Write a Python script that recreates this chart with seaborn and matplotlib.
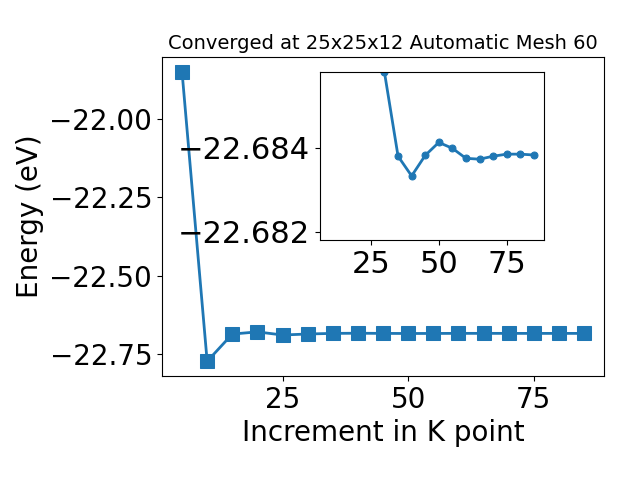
import numpy as np
import pandas as pd
import matplotlib
matplotlib.use("Agg")
import matplotlib.pyplot as plt
import seaborn as sns

# Data
kpoints = [5, 10, 15, 20, 25, 30, 35, 40, 45, 50, 55, 60, 65, 70, 75, 80, 85]
energy = [-21.849, -22.773, -22.686, -22.679, -22.689, -22.6858, -22.6838, -22.68333,
          -22.68382, -22.68413, -22.68399, -22.68375, -22.68373, -22.6838, -22.68385,
          -22.68385, -22.68383]

# Zoomed-in portion shown in the inset
inset_kpoints = kpoints[5:]
inset_energy = energy[5:]

color = "#1f77b4"

fig = plt.figure(figsize=(6.4, 4.8), dpi=100)
ax = fig.add_axes([0.253, 0.217, 0.691, 0.664])

sns.lineplot(x=kpoints, y=energy, ax=ax, color=color, marker="s", markersize=10,
             markeredgecolor=color, linewidth=2)
ax.set_title("Converged at 25x25x12 Automatic Mesh 60", fontsize=14)
ax.set_xlabel("Increment in K point", fontsize=20)
ax.set_ylabel("Energy (eV)", fontsize=20)
ax.set_yticks([-22.75, -22.5, -22.25, -22.0])
ax.set_xticks([25, 50, 75])
ax.tick_params(labelsize=20)

# Inset (y axis runs from more negative at top to less negative at bottom)
axin = fig.add_axes([0.5, 0.5, 0.35, 0.349])
sns.lineplot(x=inset_kpoints, y=inset_energy, ax=axin, color=color, marker="o",
             markersize=5, markeredgecolor=color, linewidth=2)
axin.set_xlim(6.25, 88.75)
axin.set_ylim(-22.6818, -22.6858)
axin.set_yticks([-22.684, -22.682])
axin.set_xticks([25, 50, 75])
axin.ticklabel_format(axis="y", useOffset=False)
axin.tick_params(labelsize=22)

plt.savefig("out.png", dpi=100)
